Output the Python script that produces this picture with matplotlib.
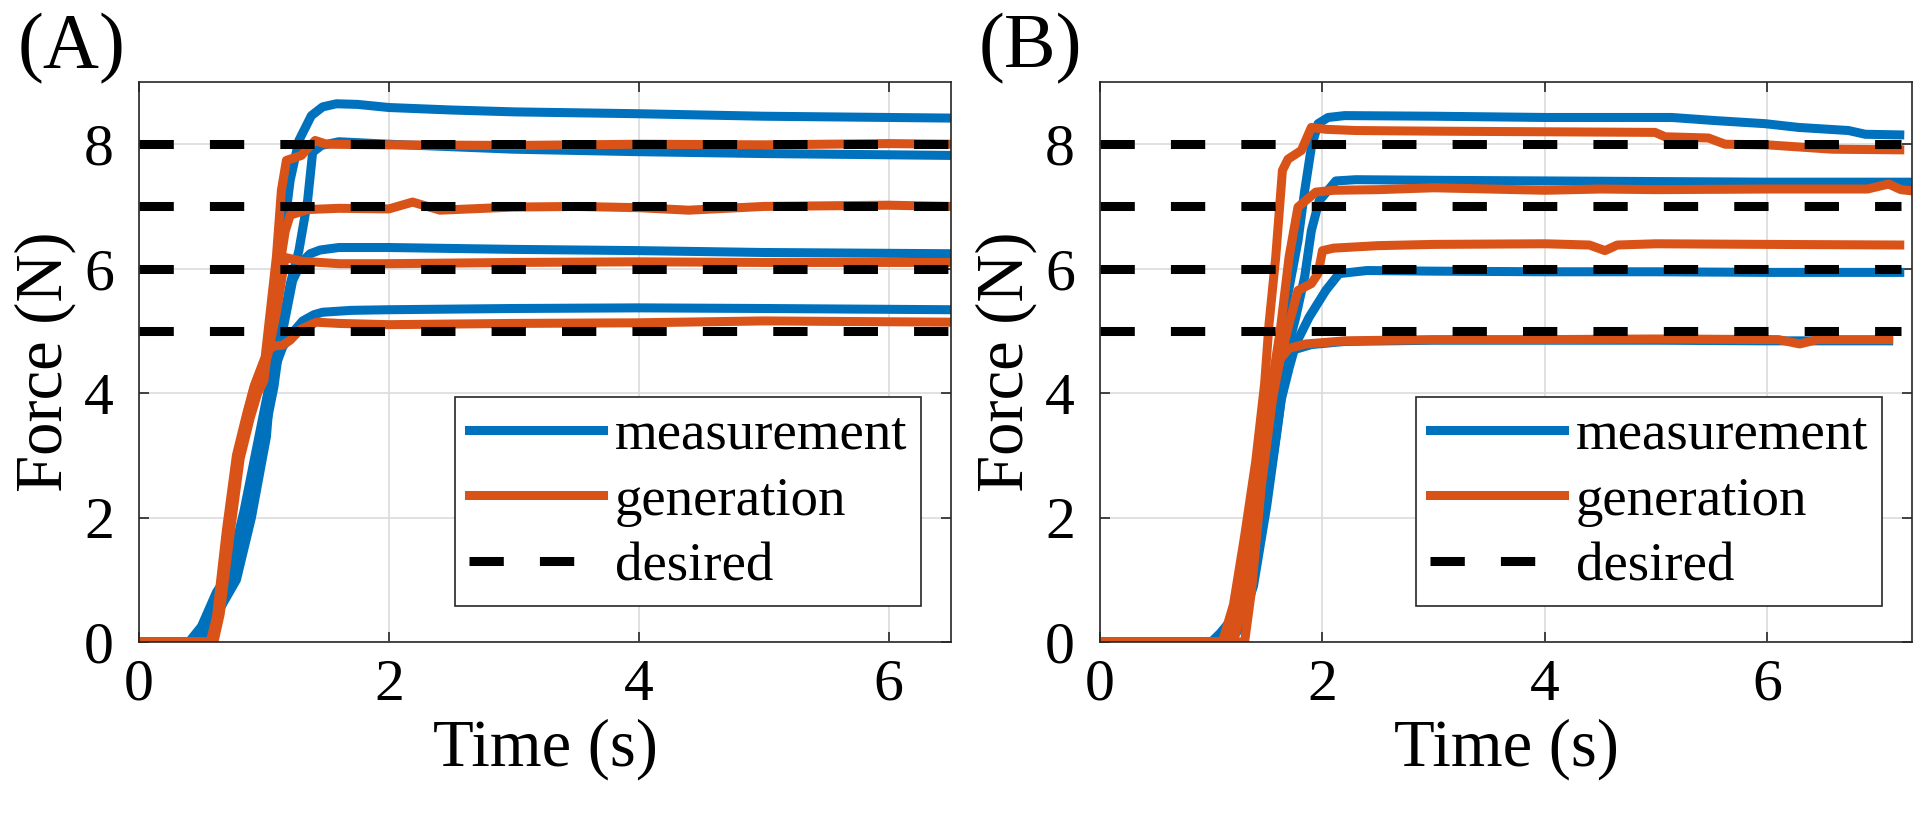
import matplotlib.pyplot as plt

plt.rcParams['font.family'] = ['Liberation Serif', 'DejaVu Serif']

blue = '#0072BD'
orange = '#D95319'

# ---- (A) measured force, 4 trials
a_m1_t = [0, 0.40, 0.50, 0.62, 0.72, 0.84, 0.97, 1.05, 1.08, 1.14, 1.21, 1.28, 1.38, 1.47, 1.58, 1.75, 2.0, 2.5, 3.0, 4.0, 5.0, 6.0, 6.5]
a_m1_f = [0, 0, 0.25, 0.8, 1.1, 2.1, 3.4, 4.2, 4.8, 6.3, 7.42, 8.06, 8.46, 8.6, 8.65, 8.64, 8.59, 8.55, 8.52, 8.49, 8.45, 8.43, 8.42]
a_m2_t = [0, 0.42, 0.52, 0.64, 0.74, 0.86, 0.99, 1.07, 1.10, 1.21, 1.28, 1.35, 1.39, 1.46, 1.6, 2.0, 3.0, 4.0, 5.0, 6.5]
a_m2_f = [0, 0, 0.2, 0.75, 1.05, 2.0, 3.3, 4.15, 4.58, 5.75, 6.29, 7.1, 7.87, 7.98, 8.04, 8.0, 7.92, 7.88, 7.85, 7.82]
a_m3_t = [0, 0.44, 0.54, 0.66, 0.76, 0.88, 1.0, 1.08, 1.12, 1.23, 1.30, 1.37, 1.45, 1.6, 2.0, 3.0, 4.0, 5.0, 6.5]
a_m3_f = [0, 0, 0.2, 0.7, 1.0, 2.0, 3.3, 4.1, 4.69, 5.81, 6.1, 6.24, 6.3, 6.34, 6.34, 6.31, 6.29, 6.26, 6.24]
a_m4_t = [0, 0.46, 0.56, 0.68, 0.78, 0.90, 1.02, 1.05, 1.10, 1.15, 1.22, 1.31, 1.40, 1.47, 1.7, 2.0, 3.0, 4.0, 5.0, 6.5]
a_m4_f = [0, 0, 0.2, 0.65, 1.0, 2.0, 3.3, 4.04, 4.47, 4.74, 4.95, 5.16, 5.26, 5.3, 5.33, 5.34, 5.36, 5.37, 5.36, 5.34]

# ---- (A) generated force
a_g8_t = [0, 0.57, 0.62, 0.70, 0.78, 0.86, 0.92, 1.01, 1.10, 1.14, 1.18, 1.30, 1.41, 1.5, 2.0, 3.0, 4.0, 5.0, 6.0, 6.5]
a_g8_f = [0, 0, 0.4, 1.8, 3.0, 3.65, 4.1, 4.58, 6.19, 7.26, 7.74, 7.82, 8.06, 8.0, 7.99, 7.98, 8.0, 7.99, 8.01, 8.0]
a_g7_t = [0, 0.58, 0.63, 0.71, 0.79, 0.87, 0.93, 1.02, 1.10, 1.17, 1.21, 1.35, 1.6, 2.0, 2.19, 2.41, 3.0, 3.5, 4.0, 4.4, 5.0, 6.0, 6.5]
a_g7_f = [0, 0, 0.45, 1.85, 3.0, 3.7, 4.15, 4.6, 5.7, 6.6, 6.86, 6.95, 6.97, 6.96, 7.07, 6.94, 6.99, 7.0, 6.98, 6.94, 7.0, 7.02, 7.0]
a_g6_t = [0, 0.59, 0.64, 0.72, 0.80, 0.88, 0.94, 1.03, 1.10, 1.17, 1.3, 1.6, 2.0, 3.0, 4.0, 5.0, 6.5]
a_g6_f = [0, 0, 0.45, 1.8, 3.0, 3.65, 4.15, 4.6, 5.3, 6.18, 6.12, 6.08, 6.08, 6.1, 6.11, 6.1, 6.1]
a_g5_t = [0, 0.6, 0.65, 0.73, 0.81, 0.89, 0.95, 1.0, 1.03, 1.09, 1.15, 1.21, 1.29, 1.42, 1.6, 2.0, 3.0, 4.0, 5.0, 6.5]
a_g5_f = [0, 0, 0.45, 1.75, 2.95, 3.6, 4.0, 4.2, 4.7, 4.76, 4.77, 4.85, 5.02, 5.14, 5.12, 5.1, 5.12, 5.13, 5.16, 5.14]

# ---- (B) measured force
b_m1_t = [0, 1.0, 1.08, 1.2, 1.3, 1.42, 1.50, 1.56, 1.62, 1.68, 1.78, 1.84, 1.9, 1.96, 2.05, 2.2, 3.0, 4.0, 5.14, 5.53, 5.98, 6.28, 6.73, 6.88, 7.19]
b_m1_f = [0, 0, 0.14, 0.4, 0.9, 2.0, 3.1, 4.0, 4.8, 5.5, 6.45, 7.25, 7.95, 8.33, 8.43, 8.46, 8.45, 8.43, 8.43, 8.38, 8.33, 8.27, 8.22, 8.16, 8.15]
b_m2_t = [0, 1.05, 1.15, 1.28, 1.4, 1.5, 1.6, 1.7, 1.76, 1.84, 1.9, 1.97, 2.12, 2.3, 3.0, 4.0, 5.0, 6.0, 7.3]
b_m2_f = [0, 0, 0.15, 0.6, 1.6, 2.6, 3.8, 4.8, 5.22, 5.87, 6.61, 7.09, 7.41, 7.43, 7.42, 7.41, 7.4, 7.39, 7.39]
b_m3_t = [0, 1.1, 1.2, 1.32, 1.45, 1.55, 1.63, 1.7, 1.76, 1.88, 2.03, 2.15, 2.4, 3.0, 4.0, 5.0, 6.0, 7.19]
b_m3_f = [0, 0, 0.15, 0.6, 1.8, 2.9, 3.9, 4.4, 4.79, 5.22, 5.65, 5.92, 5.97, 5.96, 5.95, 5.95, 5.94, 5.94]
b_m4_t = [0, 1.15, 1.25, 1.38, 1.5, 1.6, 1.67, 1.75, 1.9, 2.2, 3.0, 4.0, 5.0, 6.0, 7.09]
b_m4_f = [0, 0, 0.2, 0.9, 2.2, 3.5, 4.48, 4.7, 4.78, 4.83, 4.85, 4.85, 4.85, 4.84, 4.84]

# ---- (B) generated force
b_g1_t = [0, 1.1, 1.2, 1.3, 1.4, 1.48, 1.52, 1.58, 1.64, 1.69, 1.81, 1.9, 2.03, 2.3, 3.0, 4.0, 4.99, 5.08, 5.47, 5.62, 6.0, 6.58, 7.19]
b_g1_f = [0, 0, 0.6, 1.7, 2.9, 4.15, 5.12, 6.19, 7.58, 7.76, 7.9, 8.27, 8.24, 8.22, 8.21, 8.2, 8.19, 8.12, 8.1, 8.0, 7.99, 7.92, 7.91]
b_g2_t = [0, 1.15, 1.25, 1.35, 1.45, 1.55, 1.62, 1.70, 1.78, 1.94, 2.1, 2.5, 3.0, 3.5, 4.0, 4.5, 5.0, 6.0, 6.9, 7.09, 7.2, 7.3]
b_g2_f = [0, 0, 0.7, 1.9, 3.1, 4.2, 5.0, 6.19, 6.99, 7.23, 7.26, 7.27, 7.3, 7.28, 7.26, 7.28, 7.27, 7.28, 7.28, 7.36, 7.27, 7.25]
b_g3_t = [0, 1.2, 1.3, 1.4, 1.5, 1.58, 1.63, 1.70, 1.78, 1.9, 1.96, 2.0, 2.1, 2.5, 3.0, 4.0, 4.4, 4.54, 4.65, 5.0, 6.0, 7.19]
b_g3_f = [0, 0, 0.7, 1.9, 3.3, 4.3, 4.6, 5.12, 5.65, 5.76, 5.92, 6.29, 6.33, 6.37, 6.39, 6.4, 6.38, 6.29, 6.38, 6.4, 6.39, 6.38]
b_g4_t = [0, 1.3, 1.36, 1.45, 1.55, 1.62, 1.7, 1.85, 2.2, 3.0, 4.0, 5.0, 6.1, 6.29, 6.45, 7.09]
b_g4_f = [0, 0, 0.8, 2.5, 3.9, 4.55, 4.72, 4.79, 4.84, 4.86, 4.86, 4.87, 4.86, 4.79, 4.86, 4.86]

desired = [5, 6, 7, 8]
a_tend = 6.5
b_tend = 7.2

panels = [
    ('(A)', [(a_m1_t, a_m1_f), (a_m2_t, a_m2_f), (a_m3_t, a_m3_f), (a_m4_t, a_m4_f)],
     [(a_g8_t, a_g8_f), (a_g7_t, a_g7_f), (a_g6_t, a_g6_f), (a_g5_t, a_g5_f)], a_tend, 6.5),
    ('(B)', [(b_m1_t, b_m1_f), (b_m2_t, b_m2_f), (b_m3_t, b_m3_f), (b_m4_t, b_m4_f)],
     [(b_g1_t, b_g1_f), (b_g2_t, b_g2_f), (b_g3_t, b_g3_f), (b_g4_t, b_g4_f)], b_tend, 7.3),
]

fig = plt.figure(figsize=(19.2, 8.26), dpi=100)
lefts = [139 / 1920, 1100 / 1920]
lw = 6.5

for k, (tag, meas, gen, tend, xmax) in enumerate(panels):
    ax = fig.add_axes([lefts[k], 1 - 642 / 826, 812 / 1920, 560 / 826])
    ax.grid(True, color='#dcdcdc', lw=1.2)
    ax.set_axisbelow(True)
    for i, (t, f) in enumerate(meas):
        ax.plot(t, f, color=blue, lw=lw, solid_joinstyle='round',
                label='measurement' if i == 0 else None)
    for i, (t, f) in enumerate(gen):
        ax.plot(t, f, color=orange, lw=lw, solid_joinstyle='round',
                label='generation' if i == 0 else None)
    for i, d in enumerate(desired):
        ax.plot([0, tend], [d, d], color='black', lw=lw, linestyle=(0, (3.8, 4.0)),
                dash_capstyle='butt', label='desired' if i == 0 else None)
    ax.set_xlim(0, xmax)
    ax.set_ylim(0, 9)
    ax.set_xticks([0, 2, 4, 6])
    ax.set_yticks([0, 2, 4, 6, 8])
    ax.tick_params(direction='in', length=7, width=1.2, colors='#262626',
                   labelcolor='black', labelsize=43, top=True, right=True)
    ax.tick_params(axis='x', pad=12)
    ax.tick_params(axis='y', pad=18)
    for s in ax.spines.values():
        s.set_color('#262626')
        s.set_linewidth(1.2)
    ax.set_xlabel('Time (s)', fontsize=48, labelpad=4)
    ax.set_ylabel('Force (N)', fontsize=48, labelpad=6)
    leg = ax.legend(loc='lower right', bbox_to_anchor=(0.963, 0.064), borderaxespad=0,
                    fontsize=39.5, fancybox=False, framealpha=1, edgecolor='#262626',
                    handlelength=2.44, handletextpad=0.22, borderpad=0.25,
                    labelspacing=0.28)
    leg.get_frame().set_linewidth(1.2)
    fig.text(lefts[k] - 121 / 1920, 1 - 67 / 826, tag, fontsize=56, ha='left',
             va='baseline')

fig.savefig('out.png', dpi=100)
